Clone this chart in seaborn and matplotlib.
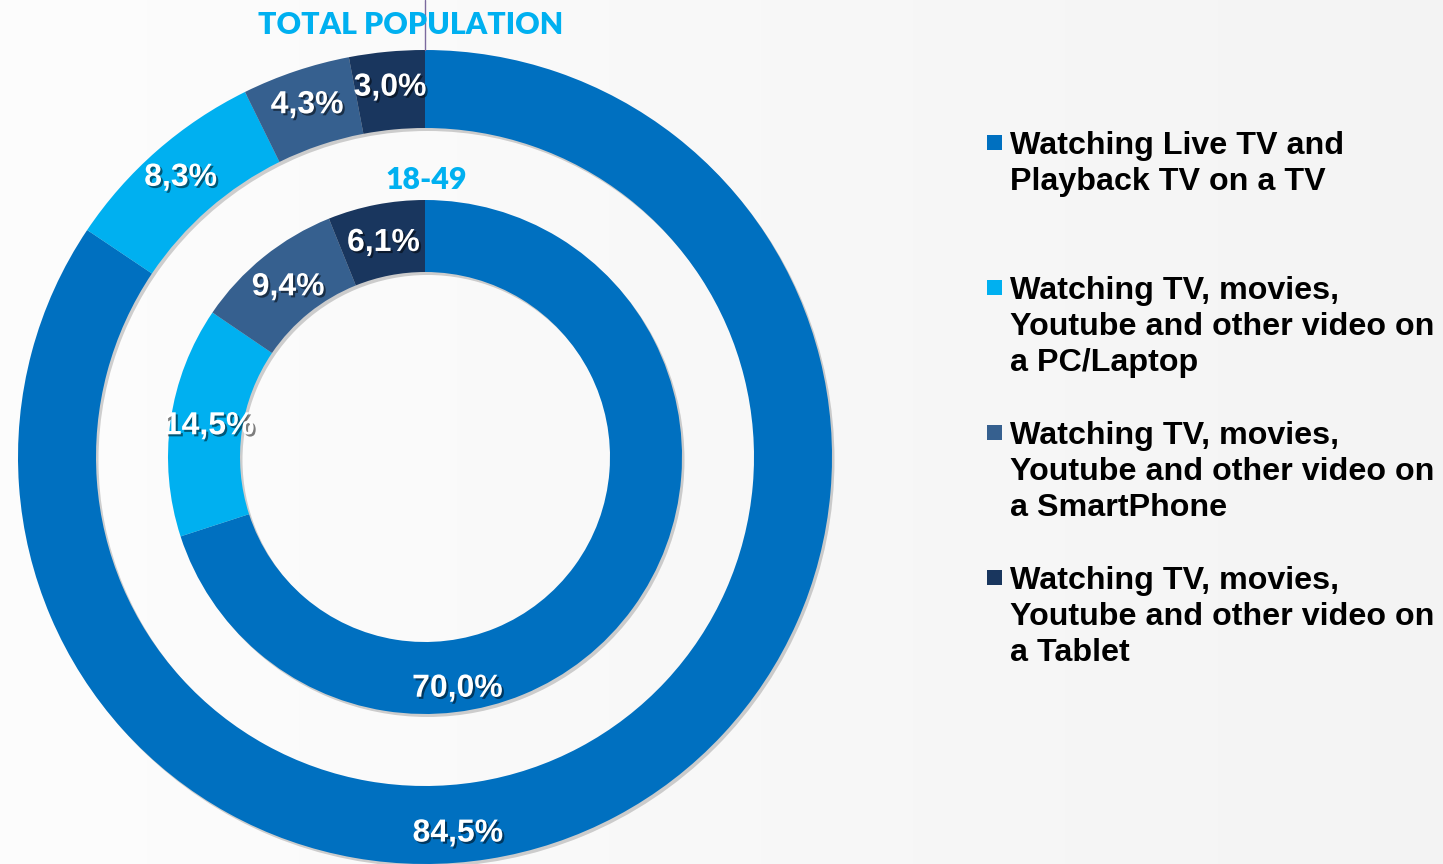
import numpy as np
import matplotlib
matplotlib.use("Agg")
import matplotlib.pyplot as plt
import matplotlib.patheffects as pe
import matplotlib.transforms as mtransforms
from matplotlib.patches import Rectangle
import seaborn as sns

# ---------------- data ----------------
categories = [
    "Watching Live TV and\nPlayback TV on a TV",
    "Watching TV, movies,\nYoutube and other video on\na PC/Laptop",
    "Watching TV, movies,\nYoutube and other video on\na SmartPhone",
    "Watching TV, movies,\nYoutube and other video on\na Tablet",
]
total_population = [84.5, 8.3, 4.3, 3.0]
age_18_49 = [70.0, 14.5, 9.4, 6.1]
total_labels = ["84,5%", "8,3%", "4,3%", "3,0%"]
age_labels = ["70,0%", "14,5%", "9,4%", "6,1%"]
ring_titles = ["TOTAL POPULATION", "18-49"]
colors = ["#0070C0", "#00B0F0", "#36608F", "#19365E"]
# label of the first (large) slice was moved by hand in the original:
# (degrees clockwise from top, radius in px)
first_label_pos = [(175.0, 378.0), (172.0, 234.0)]

# ---------------- style ----------------
sns.set_theme(style="white")
palette = sns.color_palette(colors)
plt.rcParams["font.family"] = ["Liberation Sans", "DejaVu Sans"]

W, H = 1443, 864
fig = plt.figure(figsize=(W / 100, H / 100), dpi=100)

# background gradient
bg = fig.add_axes([0, 0, 1, 1], zorder=-10)
grad = np.linspace(0.992, 0.955, 256).reshape(1, -1)
bg.imshow(np.dstack([grad] * 3), aspect="auto", extent=[0, 1, 0, 1])
bg.set_axis_off()

# pie axes: centre (425, 457) px, outer radius 407 px
cx, cy, R = 425, 457, 407
ax = fig.add_axes([(cx - R) / W, (H - cy - R) / H, 2 * R / W, 2 * R / H])
ax.patch.set_alpha(0)

rings = [
    (total_population, total_labels, 1.0, 78 / R, 371 / R, first_label_pos[0]),
    (age_18_49, age_labels, 257 / R, 72 / R, 218 / R, first_label_pos[1]),
]
shadow_tr = ax.transData + mtransforms.ScaledTranslation(2.5 / 100, -3 / 100, fig.dpi_scale_trans)
for vals, labs, rad, wid, lr, (fang, frad) in rings:
    # soft drop shadow under the whole ring
    sh, _ = ax.pie([sum(vals)], colors=["black"], radius=rad,
                   wedgeprops=dict(width=wid, edgecolor="none", alpha=0.18))
    for s in sh:
        s.set_transform(shadow_tr)
        s.set_zorder(0.5)
    wedges, _ = ax.pie(vals, colors=palette, startangle=90, counterclock=False,
                       radius=rad, wedgeprops=dict(width=wid, edgecolor="none"),
                       normalize=True)
    for w in wedges:
        w.set_zorder(1)
    tot = sum(vals)
    cum = 0
    for i, (v, lab) in enumerate(zip(vals, labs)):
        mid = (cum + v / 2) / tot * 360.0
        cum += v
        ang, r = (fang, frad / R) if i == 0 else (mid, lr)
        th = np.deg2rad(ang)
        x, y = r * np.sin(th), r * np.cos(th)
        ax.text(x, y, lab, ha="center", va="center", color="white",
                fontsize=23, fontweight="bold", zorder=3,
                path_effects=[pe.withSimplePatchShadow(offset=(1.5, -1.5), alpha=0.5,
                                                       shadow_rgbFace="black")])

ax.set_xlim(-1, 1)
ax.set_ylim(-1, 1)
ax.set_aspect("equal")
ax.set_axis_off()

# ring titles
fig.text(411 / W, 1 - 25 / H, ring_titles[0], ha="center", va="center",
         color="#00B0F0", fontsize=21.8, fontweight="heavy", family=["Lato", "DejaVu Sans"])
fig.text(426 / W, 1 - 180 / H, ring_titles[1], ha="center", va="center",
         color="#00B0F0", fontsize=21.8, fontweight="heavy", family=["Lato", "DejaVu Sans"])

# thin vertical line through title
fig.add_artist(plt.Line2D([cx / W, cx / W], [1 - 50 / H, 1.0], transform=fig.transFigure,
                          color="#7B6A9E", lw=1))

# legend
cap_tops = [131, 276, 421, 566]
fs = 23.2
em = fs * 100 / 72
for cat, col, ct in zip(categories, palette, cap_tops):
    ymid = ct + 11.5
    fig.add_artist(Rectangle((987 / W, 1 - (ymid + 7.5) / H), 15 / W, 15 / H,
                             transform=fig.transFigure, facecolor=col, edgecolor="none"))
    top = ct - (0.905 - 0.716) * em + 6
    fig.text(1010 / W, 1 - top / H, cat, ha="left", va="top", color="black",
             fontsize=fs, fontweight="bold", linespacing=1.27)

fig.savefig("out.png", dpi=100)
